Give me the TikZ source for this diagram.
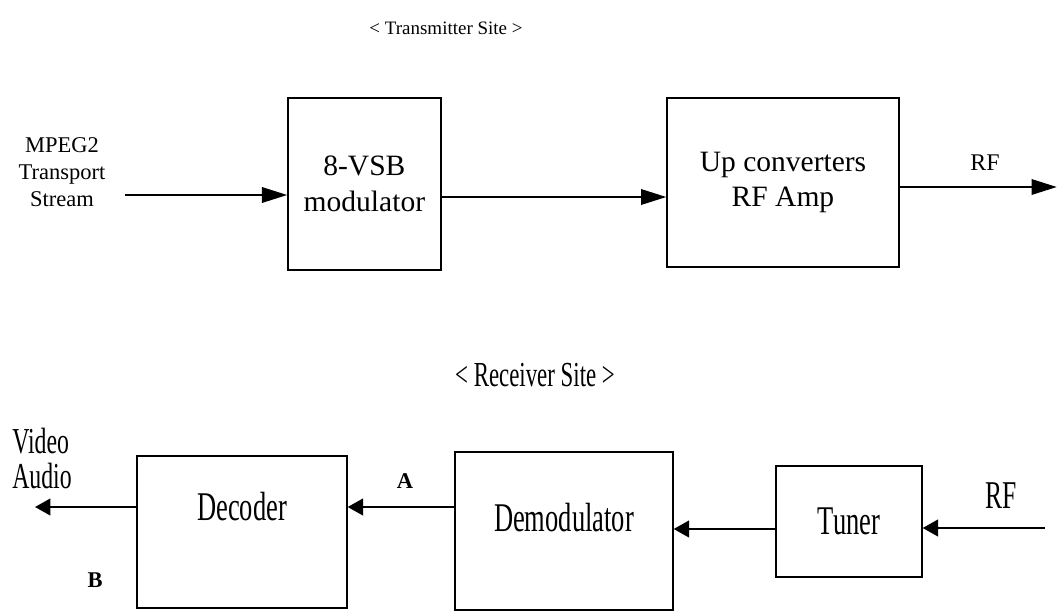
\documentclass[tikz,border=0pt]{standalone}
\usepackage{fontspec}
\setmainfont{Liberation Serif}
\newfontfamily\narrowfont{Liberation Serif}[FakeStretch=0.65]
\usetikzlibrary{arrows.meta}

\tikzset{
  block/.style={draw, line width=1pt, inner sep=0pt, align=center},
  sig/.style={-{Triangle[length=18pt,width=11pt]}, line width=1.5pt},
  sigrx/.style={-{Triangle[length=11pt,width=12pt]}, line width=1.3pt},
  txfont/.style={font=\fontsize{21}{25.5}\selectfont},
  rxfont/.style={font=\narrowfont\fontsize{29}{34}\selectfont},
  raise/.style={text height=0.7cm, text depth=#1}
}

\begin{document}
\begin{tikzpicture}
        \useasboundingbox (0,0) rectangle (26.45,-15.3);
        % transmitter
        \node[font=\fontsize{13.5}{16}\selectfont] at (11.15,-0.7) (txtitle){< Transmitter Site >};
        \node[align=center, font=\fontsize{16}{19}\selectfont] at (1.55,-4.3) (src){MPEG2\\Transport\\Stream};
        \node[block, txfont, minimum width=3.825cm, minimum height=4.3cm] at (9.11,-4.6) (mod){8-VSB\\modulator};
        \node[block, txfont, minimum width=5.8cm, minimum height=4.225cm] at (19.575,-4.5625) (up){Up converters\\RF Amp};
        \node[font=\fontsize{17}{20}\selectfont] at (24.625,-4.075) (rftx){RF};
        \coordinate (srcend) at (3.125,-4.875);
        \coordinate (modout) at ([yshift=-0.325cm]mod.east);
        \coordinate (rfout) at (26.42,-4.675);
        \draw[sig] (srcend) -- (srcend -| mod.west);
        \draw[sig] (modout) -- (modout -| up.west);
        \draw[sig] (rfout -| up.east) -- (rfout);
        % receiver
        \node[font=\narrowfont\fontsize{25}{30}\selectfont] at (13.375,-9.375) (rxtitle){< Receiver Site >};
        \node[block, rxfont, raise=1.3cm, minimum width=5.25cm, minimum height=3.8cm] at (6.05,-13.3) (dec){Decoder};
        \node[block, rxfont, raise=0.7cm, minimum width=5.45cm, minimum height=3.95cm] at (14.1,-13.275) (dem){Demodulator};
        \node[block, rxfont, minimum width=3.65cm, minimum height=2.775cm] at (21.225,-13.0375) (tun){Tuner};
        \node[align=left, font=\narrowfont\fontsize{26}{25}\selectfont] at (1.05,-11.46) (va){Video\\Audio};
        \node[font=\narrowfont\fontsize{28}{30}\selectfont] at (25.03,-12.4) (rfrx){RF};
        \node[font=\bfseries\fontsize{16}{18}\selectfont] at (10.125,-12.025) (la){A};
        \node[font=\bfseries\fontsize{16}{18}\selectfont] at (2.375,-14.5) (lb){B};
        \coordinate (vaout) at (0.875,-12.675);
        \coordinate (tunout) at ([yshift=-0.1875cm]tun.west);
        \coordinate (rfin) at (26.125,-13.2);
        \draw[sigrx] (vaout -| dec.west) -- (vaout);
        \draw[sigrx] (vaout -| dem.west) -- (vaout -| dec.east);
        \draw[sigrx] (tunout) -- (tunout -| dem.east);
        \draw[sigrx] (rfin) -- (rfin -| tun.east);
\end{tikzpicture}
\end{document}
